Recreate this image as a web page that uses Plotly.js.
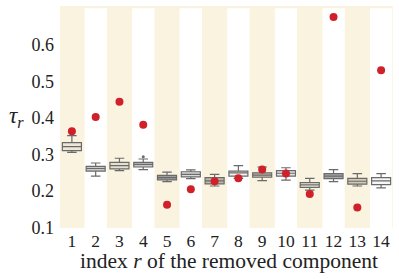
<!DOCTYPE html>
<html>
<head>
<meta charset="utf-8">
<script src="https://cdn.plot.ly/plotly-3.0.1.min.js"></script>
<style>html,body{margin:0;padding:0;background:#fff}#chart{width:399px;height:279px}</style>
</head>
<body>
<div id="chart"></div>
<script>
const components = [1,2,3,4,5,6,7,8,9,10,11,12,13,14];
const tickLabels = ["1","2","3","4","5","6","7","8","9","10","11","12","13","14"];
const q1 = [0.311,0.255,0.261,0.266,0.231,0.239,0.220,0.241,0.238,0.241,0.210,0.234,0.219,0.218];
const median = [0.322,0.262,0.270,0.273,0.237,0.246,0.228,0.250,0.244,0.249,0.217,0.241,0.227,0.228];
const q3 = [0.333,0.268,0.279,0.279,0.243,0.253,0.237,0.255,0.250,0.256,0.223,0.248,0.235,0.237];
const lowerWhisker = [0.306,0.241,0.256,0.259,0.226,0.234,0.214,0.235,0.229,0.230,0.203,0.226,0.214,0.209];
const upperWhisker = [0.352,0.277,0.290,0.288,0.252,0.258,0.246,0.270,0.266,0.264,0.235,0.259,0.248,0.248];
const boxFills = ["#ece7d7","#c9c9c9","#e6e0cc","#c6c6c6","#9c9c9c","#dadada","#bcb8a8","#f2f2f2","#c2bda9","#e2e2e2","#efebd8","#a9a9a9","#d0cab6","#f6f6f6"];
const outlierX = [4];
const outlierY = [0.294];
const removedTau = [0.364,0.403,0.445,0.382,0.163,0.205,0.227,0.235,0.259,0.248,0.192,0.677,0.155,0.531];

const traces = components.map((c, i) => ({
  type: 'box',
  x: [c],
  q1: [q1[i]], median: [median[i]], q3: [q3[i]],
  lowerfence: [lowerWhisker[i]], upperfence: [upperWhisker[i]],
  width: 0.8,
  whiskerwidth: 0.5,
  fillcolor: boxFills[i],
  line: {color: '#6a6a6a', width: 1.2},
  boxpoints: false,
  hoverinfo: 'skip',
  showlegend: false
}));
traces.push({
  type: 'scatter', mode: 'markers', x: outlierX, y: outlierY,
  marker: {color: '#6a6a6a', size: 3}, showlegend: false, hoverinfo: 'skip'
});
traces.push({
  type: 'scatter', mode: 'markers', x: components, y: removedTau,
  marker: {color: '#d0202a', size: 8}, showlegend: false, hoverinfo: 'skip'
});

const shapes = components.filter(c => c % 2 === 0).map(c => ({
  type: 'rect', xref: 'x', yref: 'paper', x0: c - 0.47, x1: c + 0.47, y0: 0, y1: 0.99,
  fillcolor: '#ffffff', line: {width: 0}, layer: 'below'
}));

const layout = {
  width: 399, height: 279,
  margin: {l: 60, r: 6, t: 6, b: 51},
  paper_bgcolor: '#ffffff',
  plot_bgcolor: '#f9f3e0',
  font: {family: '"Liberation Serif", serif', color: '#222', size: 18},
  shapes: shapes,
  xaxis: {
    range: [0.5, 14.5], tickvals: components, ticktext: tickLabels,
    showgrid: false, zeroline: false, showline: false, ticks: '',
    tickfont: {size: 17.5}, ticklabelstandoff: 0
  },
  yaxis: {
    range: [0.099, 0.707], tickvals: [0.1,0.2,0.3,0.4,0.5,0.6], ticktext: ['0.1','0.2','0.3','0.4','0.5','0.6'],
    showgrid: false, zeroline: false, showline: false, ticks: '',
    tickfont: {size: 18}, ticklabelstandoff: 5
  },
  annotations: [{
    xref: 'paper', yref: 'paper', x: -0.102, y: 0.5, xanchor: 'right', yanchor: 'middle',
    text: '<i>τ</i><sub><i>r</i></sub>', showarrow: false, font: {size: 23}
  }, {
    xref: 'paper', yref: 'paper', x: 0.508, y: -0.15, xanchor: 'center', yanchor: 'middle',
    text: 'index <i>r</i> of the removed component', showarrow: false, font: {size: 21.5}
  }]
};
Plotly.newPlot('chart', traces, layout, {displayModeBar: false, staticPlot: true});
</script>
</body>
</html>
